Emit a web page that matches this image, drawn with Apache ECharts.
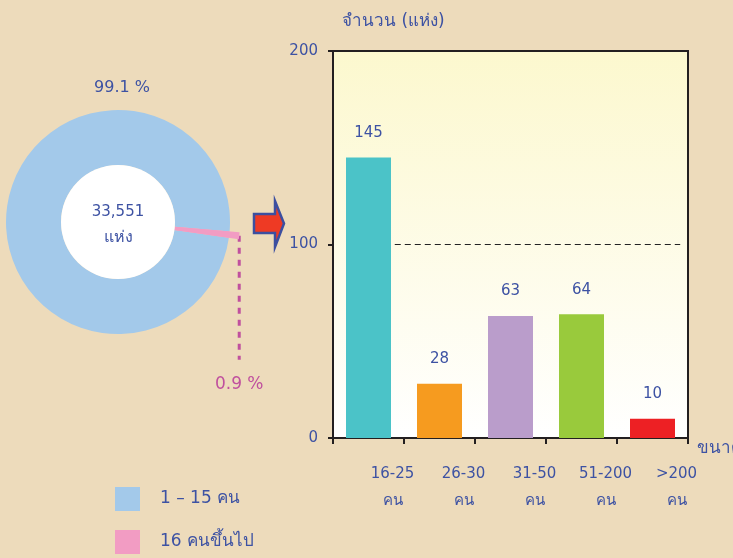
<!DOCTYPE html>
<html>
<head>
<meta charset="utf-8">
<script src="https://cdn.jsdelivr.net/npm/echarts@6/dist/echarts.min.js"></script>
<style>
html,body{margin:0;padding:0;background:#EDDBBB;}
#c{width:733px;height:558px;}
</style>
</head>
<body>
<div id="c"></div>
<script>
// ---- data ----
const pieNames = ['1 – 15 คน', '16 คนขึ้นไป'];
const pieShares = [99.1, 0.9];
const totalPlaces = 33551;
const totalUnit = 'แห่ง';
const categories = ['16-25', '26-30', '31-50', '51-200', '>200'];
const categoryUnit = 'คน';
const barValues = [145, 28, 63, 64, 10];
const yTicks = [0, 100, 200];
const refLineValue = 100;
const refLineSpan = [0.37, 4.39];

const FONT = '"DejaVu Sans", Tahoma, "Noto Sans", sans-serif';
const BLUE_TXT = '#3D52A3';
const PIE_COLORS = ['#A3C9EA', '#F29CC3'];
const BAR_COLORS = ['#4BC3C8', '#F69B1F', '#BA9DCB', '#99CA3C', '#ED2024'];

const chart = echarts.init(document.getElementById('c'));

const pieCenter = [118, 222];

const option = {
  backgroundColor: '#EDDBBB',
  animation: false,
  textStyle: { fontFamily: FONT },
  legend: {
    orient: 'vertical',
    left: 115, top: 487,
    padding: 0,
    itemWidth: 25, itemHeight: 24, itemGap: 19,
    icon: 'rect',
    data: pieNames,
    selectedMode: false,
    textStyle: { color: BLUE_TXT, fontSize: 17, fontFamily: FONT, padding: [0,0,0,15] }
  },
  grid: {
    left: 333, top: 51, right: 45, bottom: 120,
    outerBoundsMode: 'none',
    containLabel: false,
    show: true,
    borderColor: '#231F20', borderWidth: 2,
    backgroundColor: {
      type: 'linear', x: 0, y: 0, x2: 0, y2: 1,
      colorStops: [{ offset: 0, color: '#FCF8CE' }, { offset: 1, color: '#FFFFFF' }]
    }
  },
  xAxis: [{
    type: 'category',
    data: categories,
    name: 'ขนาด',
    nameLocation: 'end',
    nameGap: 9,
    nameTextStyle: { color: BLUE_TXT, fontSize: 17, fontFamily: FONT, verticalAlign: 'top', align: 'left', padding: [2,0,0,0] },
    axisLine: { onZero: false, lineStyle: { color: '#231F20', width: 2 } },
    axisTick: { show: true, length: 6, alignWithLabel: false, lineStyle: { color: '#231F20', width: 2 } },
    axisLabel: {
      interval: 0,
      hideOverlap: false,
      color: BLUE_TXT, fontSize: 15, fontFamily: FONT,
      margin: 23, lineHeight: 27, padding: [0,0,0,48],
      formatter: v => v + '\n' + categoryUnit
    }
  }, {
    type: 'value', min: -0.5, max: 4.5, show: false, position: 'top'
  }],
  yAxis: {
    type: 'value', min: yTicks[0], max: yTicks[yTicks.length - 1], interval: yTicks[1] - yTicks[0],
    name: 'จำนวน (แห่ง)',
    nameLocation: 'end', nameGap: 21,
    nameTextStyle: { color: BLUE_TXT, fontSize: 17, fontFamily: FONT, align: 'left', padding: [0,0,0,9] },
    axisLine: { show: true, onZero: false, lineStyle: { color: '#231F20', width: 2 } },
    axisTick: { show: true, length: 5, lineStyle: { color: '#231F20', width: 2 } },
    splitLine: { show: false },
    axisLabel: { color: BLUE_TXT, fontSize: 15, fontFamily: FONT, margin: 15 }
  },
  series: [
    {
      type: 'bar',
      data: barValues.map((v, i) => ({ value: v, itemStyle: { color: BAR_COLORS[i] } })),
      barWidth: 45,
      label: { show: true, position: 'top', distance: 17, color: BLUE_TXT, fontSize: 15, fontFamily: FONT },
      silent: true
    },
    {
      type: 'line',
      xAxisIndex: 1,
      data: refLineSpan.map(x => [x, refLineValue]),
      symbol: 'none',
      lineStyle: { color: '#222', width: 1, type: [6, 4] },
      silent: true
    },
    {
      type: 'pie',
      center: pieCenter,
      radius: [57, 112],
      startAngle: -8.1,
      clockwise: true,
      silent: true,
      data: pieNames.map((n, i) => ({ name: n, value: pieShares[i], itemStyle: { color: PIE_COLORS[i] }, label: { show: i === 0 } })),
      label: {
        show: true, position: 'inside', color: BLUE_TXT, fontSize: 16, fontFamily: FONT,
        formatter: p => p.value + ' %'
      },
      labelLine: { show: false },
      labelLayout: function (params) {
        if (params.dataIndex === 0) {
          return { x: params.rect.x + params.rect.width / 2 + 4, y: params.rect.y - 22, align: 'center', verticalAlign: 'middle' };
        }
        return {};
      }
    },
    {
      type: 'pie',
      center: pieCenter,
      radius: [57, 122],
      startAngle: -8.1,
      clockwise: true,
      silent: true,
      legendHoverLink: false,
      data: pieNames.map((n, i) => ({
        name: n, value: pieShares[i],
        itemStyle: { color: i === 1 ? PIE_COLORS[1] : 'rgba(0,0,0,0)' },
        label: { show: i === 1 },
        labelLine: { show: i === 1 }
      })),
      label: {
        show: true, position: 'outside', color: '#C0509E', fontSize: 17, fontFamily: FONT,
        formatter: p => p.value + ' %'
      },
      labelLine: { show: true, length: 10, length2: 10, lineStyle: { color: '#C0509E', width: 3, type: [6, 6] } },
      labelLayout: function (params) {
        if (params.dataIndex !== 1) return {};
        const p = params.labelLinePoints ? params.labelLinePoints[0] : [params.rect.x + params.rect.width, params.rect.y + params.rect.height];
        return {
          x: p[0], y: p[1] + 149, align: 'center', verticalAlign: 'middle',
          labelLinePoints: [[p[0], p[1]], [p[0], p[1] + 60], [p[0], p[1] + 124]]
        };
      }
    },
    {
      type: 'pie',
      center: pieCenter,
      radius: [0, 57],
      silent: true,
      legendHoverLink: false,
      data: [{ name: 'total', value: totalPlaces, itemStyle: { color: '#FFFFFF' } }],
      label: {
        show: true, position: 'center', color: BLUE_TXT, fontFamily: FONT,
        formatter: p => '{a|' + p.value.toLocaleString('en-US') + '}\n{b|' + totalUnit + '}',
        rich: {
          a: { fontSize: 15, color: BLUE_TXT, fontFamily: FONT, lineHeight: 26 },
          b: { fontSize: 16, color: BLUE_TXT, fontFamily: FONT, lineHeight: 26 }
        }
      },
      labelLine: { show: false },
      labelLayout: { dy: 3 }
    }
  ],
  graphic: [{
    type: 'polygon',
    shape: { points: [[254, 214], [275, 214], [275, 201], [284, 223.5], [275, 247], [275, 233], [254, 233]] },
    style: { fill: '#EE3A24', stroke: '#3C4FA0', lineWidth: 2.5 },
    silent: true
  }]
};

chart.setOption(option);
</script>
</body>
</html>
